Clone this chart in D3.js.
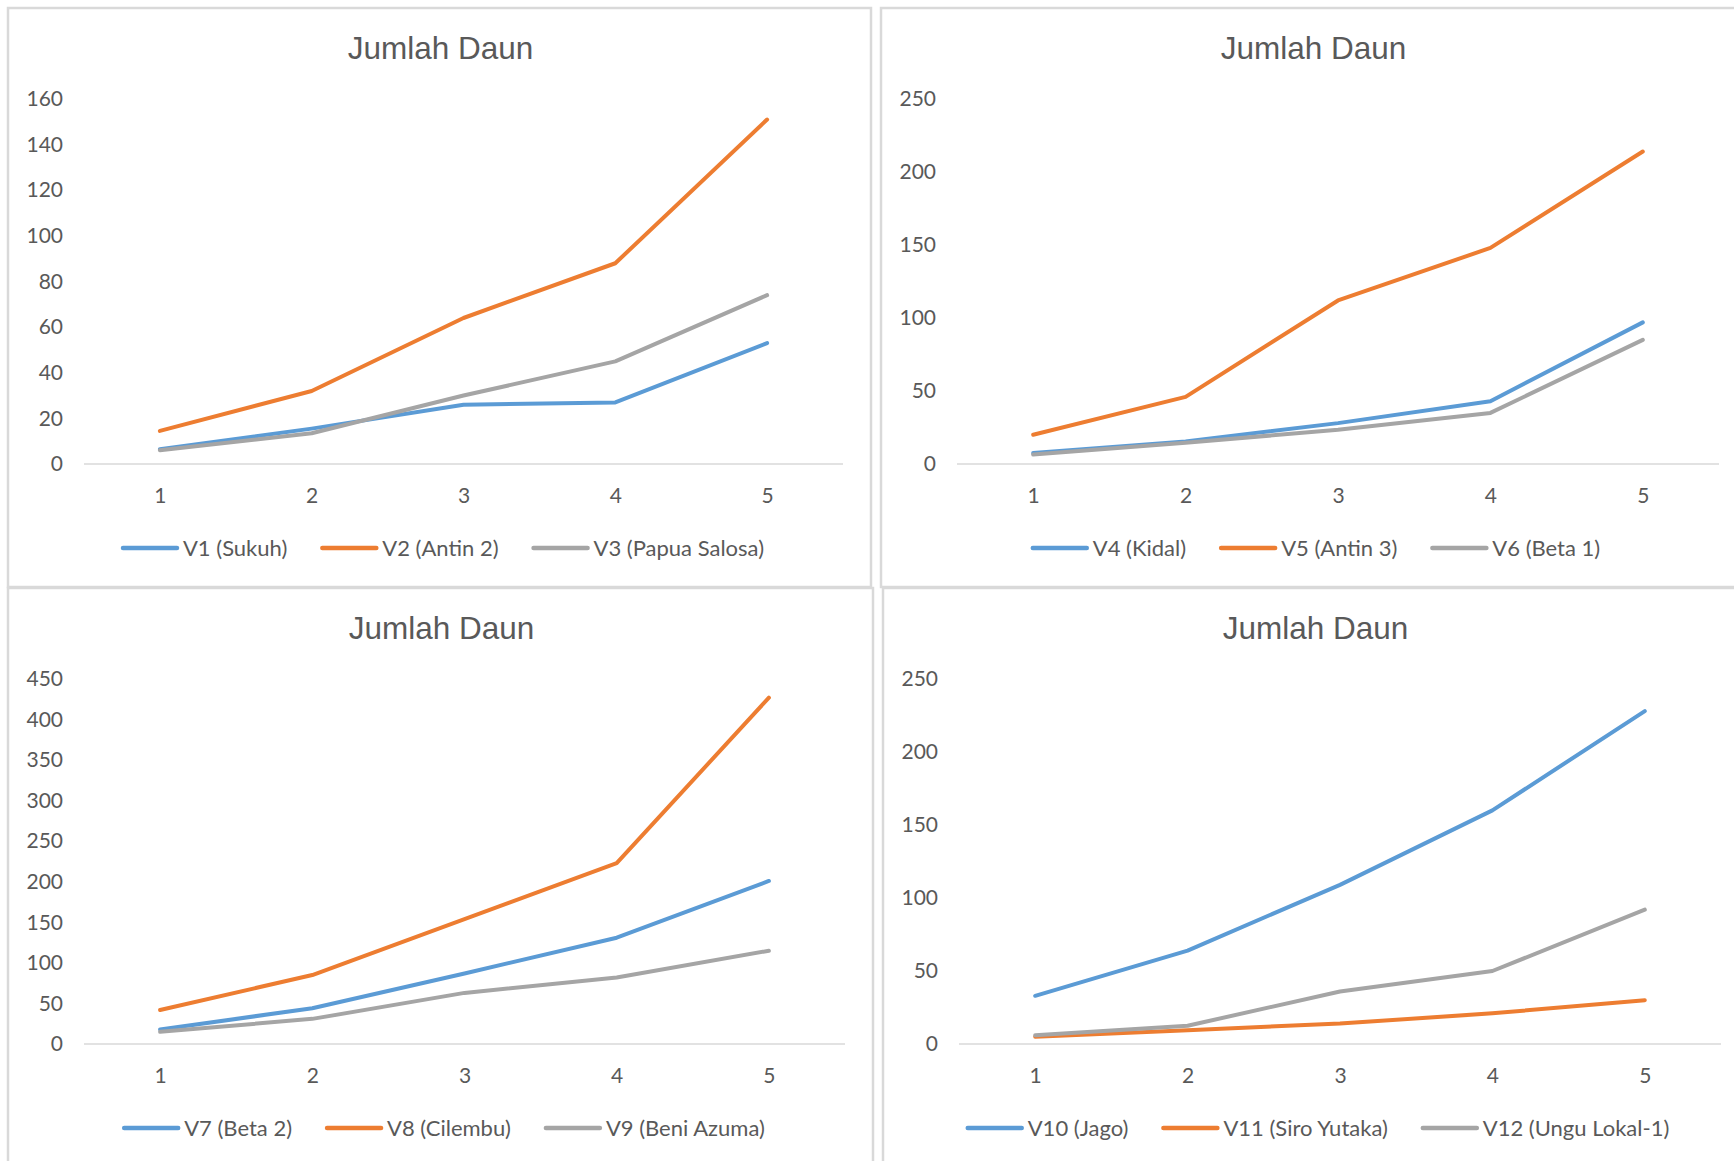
<!DOCTYPE html>
<html>
<head>
<meta charset="utf-8">
<script src="https://cdn.jsdelivr.net/npm/d3@7"></script>
<style>
  html, body { margin: 0; padding: 0; background: #ffffff; }
  svg { display: block; }
</style>
</head>
<body>
<svg id="chart" width="1734" height="1161"></svg>
<script>
// Weeks of observation (category axis)
const weeks = ["1", "2", "3", "4", "5"];

// Leaf counts per variety
const v1 = [6.5, 15.5, 26, 27, 53];
const v2 = [14.5, 32, 64, 88, 151];
const v3 = [6, 13.5, 30, 45, 74];

const v4 = [7.5, 15.5, 28, 43, 97];
const v5 = [20, 46, 112, 148, 214];
const v6 = [6.5, 14.5, 23.5, 35, 85];

const v7 = [18, 44, 87, 131, 201];
const v8 = [42, 85, 154, 223, 427];
const v9 = [15, 31, 63, 82, 115];

const v10 = [33, 64, 109, 160, 228];
const v11 = [5, 9.5, 14, 21, 30];
const v12 = [6, 12.5, 36, 50, 92];

// Series names
const names1 = ["V1 (Sukuh)", "V2 (Antin 2)", "V3 (Papua Salosa)"];
const names2 = ["V4 (Kidal)", "V5 (Antin 3)", "V6 (Beta 1)"];
const names3 = ["V7 (Beta 2)", "V8 (Cilembu)", "V9 (Beni Azuma)"];
const names4 = ["V10 (Jago)", "V11 (Siro Yutaka)", "V12 (Ungu Lokal-1)"];

// Value-axis tick labels
const ticks1 = [0, 20, 40, 60, 80, 100, 120, 140, 160];
const ticks2 = [0, 50, 100, 150, 200, 250];
const ticks3 = [0, 50, 100, 150, 200, 250, 300, 350, 400, 450];
const ticks4 = [0, 50, 100, 150, 200, 250];

const chartTitle = "Jumlah Daun";
const colors = ["#5B9BD5", "#ED7D31", "#A5A5A5"];

// Panel placement on the page
const panels = [
  { x: 8,   y: 8,   w: 863, h: 579, plotL: 84,  plotR: 843,  series: [v1, v2, v3],    names: names1, ticks: ticks1 },
  { x: 881, y: 8,   w: 863, h: 579, plotL: 957, plotR: 1719, series: [v4, v5, v6],    names: names2, ticks: ticks2 },
  { x: 8,   y: 588, w: 865, h: 590, plotL: 84,  plotR: 845,  series: [v7, v8, v9],    names: names3, ticks: ticks3 },
  { x: 883, y: 588, w: 863, h: 590, plotL: 959, plotR: 1721, series: [v10, v11, v12], names: names4, ticks: ticks4 }
];

const svg = d3.select("#chart");
const textColor = "#595959";
const tickFont = "Lato, 'Open Sans', sans-serif";

panels.forEach(p => {
  const g = svg.append("g");

  // chart frame
  g.append("rect")
    .attr("x", p.x).attr("y", p.y)
    .attr("width", p.w).attr("height", p.h)
    .attr("fill", "#ffffff")
    .attr("stroke", "#d9d9d9")
    .attr("stroke-width", 2.5);

  const top = p.y + 91;
  const bottom = p.y + 456;

  const x = d3.scalePoint()
    .domain(weeks)
    .range([p.plotL, p.plotR])
    .padding(0.5);

  const y = d3.scaleLinear()
    .domain([0, d3.max(p.ticks)])
    .range([bottom, top]);

  // title
  g.append("text")
    .attr("x", p.x + p.w / 2 + 1)
    .attr("y", p.y + 51)
    .attr("text-anchor", "middle")
    .attr("font-family", "'Liberation Sans', Arial, sans-serif")
    .attr("font-size", 31.5)
    .attr("fill", textColor)
    .text(chartTitle);

  // value axis labels (no axis line)
  const yAxis = d3.axisLeft(y).tickValues(p.ticks).tickSize(0).tickPadding(21);
  const ya = g.append("g")
    .attr("transform", `translate(${p.plotL},0)`)
    .call(yAxis);
  ya.select(".domain").remove();
  ya.selectAll("text")
    .attr("font-family", tickFont)
    .attr("font-size", 21)
    .attr("fill", textColor);

  // category axis
  const xAxis = d3.axisBottom(x).tickSize(0).tickPadding(24);
  const xa = g.append("g")
    .attr("transform", `translate(0,${bottom})`)
    .call(xAxis);
  xa.select(".domain")
    .attr("d", `M${p.plotL},0H${p.plotR}`)
    .attr("stroke", "#d9d9d9")
    .attr("stroke-width", 1.5);
  xa.selectAll("text")
    .attr("font-family", tickFont)
    .attr("font-size", 21)
    .attr("fill", textColor);

  // series lines
  const line = d3.line()
    .x((d, i) => x(weeks[i]))
    .y(d => y(d));

  p.series.forEach((s, i) => {
    g.append("path")
      .datum(s)
      .attr("d", line)
      .attr("fill", "none")
      .attr("stroke", colors[i])
      .attr("stroke-width", 4)
      .attr("stroke-linejoin", "round")
      .attr("stroke-linecap", "round");
  });

  // legend
  const legY = p.y + 540;
  const leg = g.append("g");
  const lineLen = 54, gapText = 6, gapItem = 35;
  let cursor = 0;
  p.names.forEach((n, i) => {
    const item = leg.append("g").attr("transform", `translate(${cursor},0)`);
    item.append("line")
      .attr("x1", 0).attr("x2", lineLen)
      .attr("y1", legY).attr("y2", legY)
      .attr("stroke", colors[i])
      .attr("stroke-width", 4.5)
      .attr("stroke-linecap", "round");
    const t = item.append("text")
      .attr("x", lineLen + gapText)
      .attr("y", legY + 7.5)
      .attr("font-family", tickFont)
      .attr("font-size", 22)
      .attr("fill", textColor)
      .text(n);
    cursor += lineLen + gapText + t.node().getComputedTextLength() + gapItem;
  });
  const total = cursor - gapItem;
  const startX = p.x + p.w / 2 + 4 - total / 2;
  leg.attr("transform", `translate(${startX},0)`);
});
</script>
</body>
</html>
